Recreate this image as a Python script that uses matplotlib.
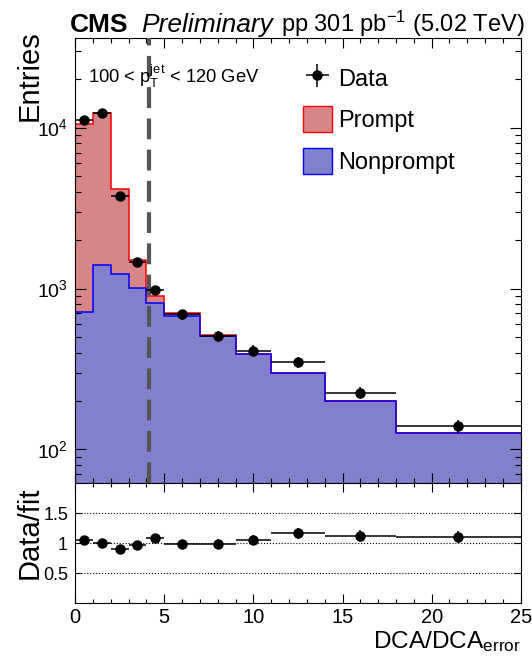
import numpy as np
import matplotlib.pyplot as plt
from matplotlib.patches import Patch
from matplotlib.ticker import MultipleLocator, LogLocator, NullFormatter, FixedLocator

plt.rcParams['font.family'] = ['Liberation Sans', 'DejaVu Sans']
plt.rcParams['mathtext.fontset'] = 'custom'
plt.rcParams['mathtext.rm'] = 'Liberation Sans'
plt.rcParams['mathtext.it'] = 'Liberation Sans:italic'
plt.rcParams['mathtext.bf'] = 'Liberation Sans:bold'
plt.rcParams['mathtext.default'] = 'regular'

# DCA/DCA_error binning and counts
bin_edges = [0, 1, 2, 3, 4, 5, 7, 9, 11, 14, 18, 25]
data_counts = [11100, 12400, 3770, 1455, 975, 690, 508, 412, 348, 225, 139]
data_errors = [220, 250, 110, 80, 65, 48, 40, 31, 28, 19, 13]
prompt_counts = [9890, 10940, 2920, 509, 86, 27, 5, 1, 0, 0, 0]
nonprompt_counts = [713, 1410, 1240, 1005, 815, 679, 508, 392, 299, 201, 126]

edges = np.array(bin_edges, dtype=float)
centers = 0.5 * (edges[1:] + edges[:-1])
halfw = 0.5 * np.diff(edges)
data = np.array(data_counts, dtype=float)
derr = np.array(data_errors, dtype=float)
nonprompt = np.array(nonprompt_counts, dtype=float)
total = nonprompt + np.array(prompt_counts, dtype=float)
ratio = data / total
ratio_err = derr / total

prompt_color = '#d78587'
nonprompt_color = '#8080cc'

fig = plt.figure(figsize=(5.32, 6.57), dpi=100)
ax = fig.add_axes([0.141, 0.265, 0.838, 0.677])
rax = fig.add_axes([0.141, 0.0822, 0.838, 0.1826])

# stacked templates
ax.stairs(nonprompt, edges, baseline=1, fill=True, color=nonprompt_color, lw=0)
ax.stairs(total, edges, baseline=nonprompt, fill=True, color=prompt_color, lw=0)
ax.stairs(total, edges, baseline=None, color='red', lw=1.1)
ax.stairs(nonprompt, edges, baseline=None, color='blue', lw=1.1)

ax.axvline(4.15, color='#555555', lw=3, ls=(0, (5, 2.5)), zorder=3)

eb = ax.errorbar(centers, data, xerr=halfw, yerr=derr, fmt='o', color='black',
                 ms=6.5, elinewidth=1.1, capsize=0, zorder=4)

ax.set_yscale('log')
ax.set_xlim(0, 25)
ax.set_ylim(62, 36000)
ax.xaxis.set_major_locator(MultipleLocator(5))
ax.xaxis.set_minor_locator(MultipleLocator(1))
ax.yaxis.set_major_locator(LogLocator(base=10))
ax.yaxis.set_minor_locator(LogLocator(base=10, subs=np.arange(2, 10)))
ax.yaxis.set_minor_formatter(NullFormatter())
ax.tick_params(axis='x', which='both', direction='in', top=True, labelbottom=False)
ax.tick_params(axis='x', which='major', length=7, width=0.8)
ax.tick_params(axis='x', which='minor', length=3.5, width=0.8)
ax.tick_params(axis='y', which='both', direction='in', right=True, labelsize=14, pad=5)
ax.tick_params(axis='y', which='major', length=8, width=0.8)
ax.tick_params(axis='y', which='minor', length=4, width=0.8)

ax.legend([eb, Patch(facecolor=prompt_color, edgecolor='red'),
           Patch(facecolor=nonprompt_color, edgecolor='blue')],
          ['Data', 'Prompt', 'Nonprompt'], loc='upper left',
          bbox_to_anchor=(0.5695, 0.901), bbox_transform=fig.transFigure,
          frameon=False, fontsize=17, handlelength=1.23, handleheight=1.3,
          labelspacing=0.66, handletextpad=0.25, borderpad=0, borderaxespad=0)

fig.text(88 / 532, 1 - 76 / 657, r'100 < $p_{T}^{jet}$ < 120 GeV', fontsize=13.2, va='center')

# ratio panel
for yv in [0.5, 1.0, 1.5]:
    rax.axhline(yv, color='black', lw=0.8, ls=':')
rax.errorbar(centers, ratio, xerr=halfw, yerr=ratio_err, fmt='o', color='black',
             ms=6.5, elinewidth=1.1, capsize=0)
rax.set_xlim(0, 25)
rax.set_ylim(0, 2)
rax.yaxis.set_major_locator(FixedLocator([0.5, 1, 1.5]))
rax.set_yticklabels(['0.5', '1', '1.5'])
rax.xaxis.set_major_locator(MultipleLocator(5))
rax.xaxis.set_minor_locator(MultipleLocator(1))
rax.tick_params(axis='x', which='both', direction='in', top=True, labelsize=14.5, pad=3.5)
rax.tick_params(axis='x', which='major', length=6.5, width=0.8)
rax.tick_params(axis='x', which='minor', length=3.2, width=0.8)
rax.tick_params(axis='y', which='both', direction='in', right=True, labelsize=13, pad=5,
                length=5, width=0.8)

# titles and labels
fig.text(30 / 532, 1 - 30 / 657, 'Entries', rotation=90, ha='center', va='top', fontsize=21)
fig.text(30 / 532, 1 - 533 / 657, 'Data/fit', rotation=90, ha='center', va='center', fontsize=21)
fig.text(521 / 532, 1 - 648 / 657, r'DCA/DCA$_{error}$', ha='right', va='baseline', fontsize=17.6)

fig.text(70 / 532, 1 - 32 / 657, 'CMS', fontweight='bold', fontsize=19, va='baseline')
fig.text(141 / 532, 1 - 32 / 657, 'Preliminary', style='italic', fontsize=19, va='baseline')
fig.text(525 / 532, 1 - 32 / 657, r'pp 301 pb$^{-1}$ (5.02 TeV)', ha='right', fontsize=17, va='baseline')

fig.savefig('out.png', dpi=100)
